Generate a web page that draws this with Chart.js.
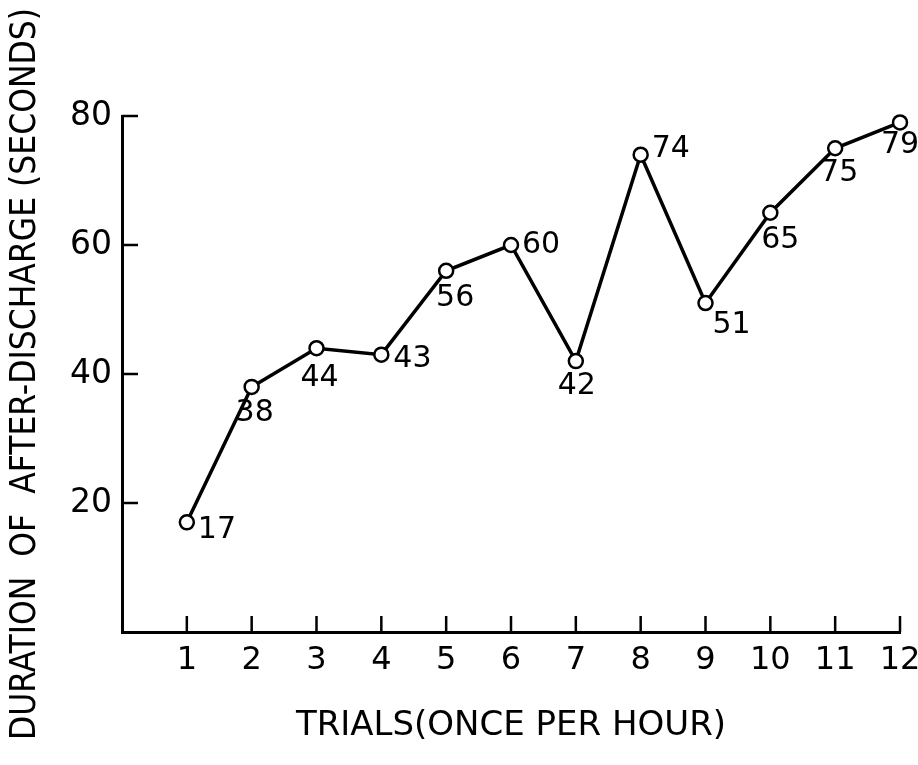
<!DOCTYPE html>
<html>
<head>
<meta charset="utf-8">
<script src="https://cdn.jsdelivr.net/npm/chart.js@4/dist/chart.umd.min.js"></script>
<style>
  html, body { margin: 0; padding: 0; background: #fff; }
  #wrap { width: 918px; height: 765px; }
</style>
</head>
<body>
<div id="wrap"><canvas id="c" width="918" height="765"></canvas></div>
<script>
// ---- data ----
const trials = [1, 2, 3, 4, 5, 6, 7, 8, 9, 10, 11, 12];
const durations = [17, 38, 44, 43, 56, 60, 42, 74, 51, 65, 75, 79];
const xTickValues = [1, 2, 3, 4, 5, 6, 7, 8, 9, 10, 11, 12];
const yTickValues = [20, 40, 60, 80];
const xTitle = 'TRIALS(ONCE PER HOUR)';
const yTitle = 'DURATION  OF  AFTER-DISCHARGE (SECONDS)';

// ---- label placement (style only): [dx, dy, textAlign] relative to point ----
const labelPlacement = [
  [11, 8, 'left'], [3, 26, 'center'], [3, 30, 'center'], [12, 5, 'left'],
  [9, 27, 'center'], [11, 0, 'left'], [1, 25, 'center'], [11, -5, 'left'],
  [7, 22, 'left'], [10, 27, 'center'], [4, 25, 'center'], [0, 23, 'center']
];

const points = trials.map((t, i) => ({ x: t, y: durations[i] }));

const inwardTicks = {
  id: 'inwardTicks',
  afterDatasetsDraw(chart) {
    const ctx = chart.ctx;
    const xs = chart.scales.x, ys = chart.scales.y;
    const len = 16;
    ctx.save();
    ctx.strokeStyle = '#000';
    ctx.lineWidth = 2.5;
    ctx.beginPath();
    xTickValues.forEach(v => {
      const px = xs.getPixelForValue(v);
      ctx.moveTo(px, ys.bottom);
      ctx.lineTo(px, ys.bottom - len);
    });
    yTickValues.forEach(v => {
      const py = ys.getPixelForValue(v);
      ctx.moveTo(xs.left, py);
      ctx.lineTo(xs.left + len, py);
    });
    ctx.stroke();
    ctx.restore();
  }
};

const pointLabels = {
  id: 'pointLabels',
  afterDatasetsDraw(chart) {
    const ctx = chart.ctx;
    const meta = chart.getDatasetMeta(0);
    ctx.save();
    ctx.fillStyle = '#000';
    ctx.font = '30px "DejaVu Sans"';
    ctx.textBaseline = 'middle';
    meta.data.forEach((el, i) => {
      const p = labelPlacement[i];
      ctx.textAlign = p[2];
      ctx.fillText(String(durations[i]), el.x + p[0], el.y + p[1]);
    });
    ctx.restore();
  }
};

function noPad(scale) {
  scale.paddingLeft = 0;
  scale.paddingRight = 0;
  scale.paddingTop = 0;
  scale.paddingBottom = 0;
}

new Chart(document.getElementById('c'), {
  type: 'line',
  data: {
    datasets: [{
      data: points,
      borderColor: '#000',
      borderWidth: 3.5,
      tension: 0,
      pointRadius: 7,
      pointBorderWidth: 2.5,
      pointBackgroundColor: '#fff',
      pointBorderColor: '#000',
      clip: false
    }]
  },
  options: {
    responsive: false,
    animation: false,
    layout: { padding: { top: 116, right: 18, left: 0, bottom: 0 } },
    plugins: {
      legend: { display: false },
      tooltip: { enabled: false }
    },
    scales: {
      x: {
        type: 'linear',
        min: 0,
        max: 12,
        grid: { display: false, drawTicks: false },
        border: { display: true, color: '#000', width: 3 },
        afterBuildTicks(scale) { scale.ticks = xTickValues.map(v => ({ value: v })); },
        afterFit(scale) { scale.height = 133; noPad(scale); },
        ticks: {
          color: '#000',
          padding: 9,
          maxRotation: 0,
          autoSkip: false,
          font: { family: 'DejaVu Sans', size: 32 },
          callback: v => String(v)
        },
        title: {
          display: true,
          text: xTitle,
          color: '#000',
          font: { family: 'DejaVu Sans', size: 34 },
          padding: { top: 0, bottom: 18 }
        }
      },
      y: {
        type: 'linear',
        min: 0,
        max: 80,
        grid: { display: false, drawTicks: false },
        border: { display: true, color: '#000', width: 3 },
        afterBuildTicks(scale) { scale.ticks = yTickValues.map(v => ({ value: v })); },
        afterFit(scale) { scale.width = 122; noPad(scale); },
        ticks: {
          color: '#000',
          padding: 10,
          font: { family: 'DejaVu Sans', size: 33 },
          callback: v => String(v)
        },
        title: {
          display: true,
          text: yTitle,
          color: '#000',
          font: { family: 'DejaVu Sans Condensed', size: 35 },
          padding: { top: 5, bottom: 0 }
        }
      }
    }
  },
  plugins: [inwardTicks, pointLabels]
});
</script>
</body>
</html>
